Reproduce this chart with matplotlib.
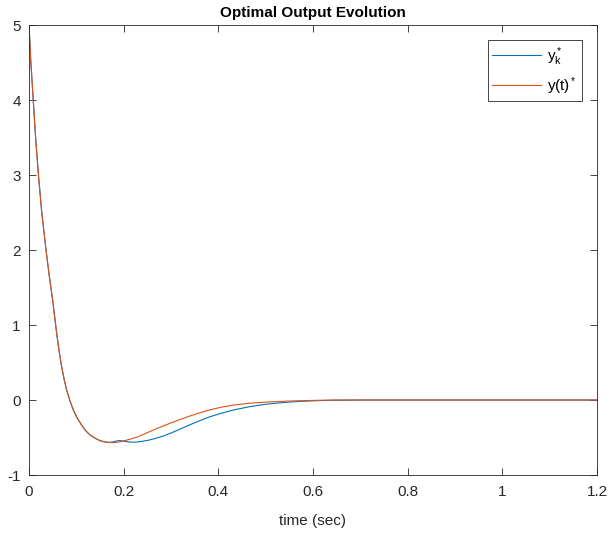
import numpy as np
import matplotlib
matplotlib.use("Agg")
import matplotlib.pyplot as plt

# values (both curves share the initial drop)
t_common = [0.0, 0.004, 0.009, 0.014, 0.02, 0.027, 0.036, 0.043, 0.05, 0.0585,
            0.064, 0.069, 0.0745, 0.0796, 0.0865, 0.0937, 0.102, 0.111, 0.12, 0.129,
            0.14, 0.15, 0.16, 0.168]
y_common = [5.0, 4.5, 4.0, 3.5, 3.0, 2.5, 2.0, 1.65, 1.333, 0.889,
            0.64, 0.444, 0.27, 0.133, -0.01, -0.133, -0.24, -0.333, -0.41, -0.467,
            -0.51, -0.542, -0.558, -0.565]

t_k_tail = [0.176, 0.184, 0.19, 0.197, 0.205, 0.213, 0.225, 0.24, 0.255, 0.27,
            0.285, 0.3, 0.32, 0.34, 0.361, 0.38, 0.405, 0.432, 0.465, 0.502,
            0.54, 0.573, 0.61, 0.643, 0.7, 1.2]
y_k_tail = [-0.56, -0.548, -0.54, -0.545, -0.553, -0.56, -0.562, -0.55, -0.532, -0.507,
            -0.477, -0.44, -0.385, -0.33, -0.275, -0.228, -0.178, -0.133, -0.09, -0.055,
            -0.032, -0.018, -0.008, -0.003, 0.0, 0.0]

t_c_tail = [0.176, 0.185, 0.192, 0.2, 0.215, 0.23, 0.25, 0.27, 0.285, 0.3,
            0.32, 0.34, 0.361, 0.38, 0.405, 0.432, 0.465, 0.502, 0.54, 0.573,
            0.61, 0.643, 1.2]
y_c_tail = [-0.568, -0.565, -0.557, -0.545, -0.52, -0.49, -0.435, -0.38, -0.342, -0.305,
            -0.258, -0.213, -0.17, -0.135, -0.097, -0.067, -0.043, -0.027, -0.016, -0.009,
            -0.004, 0.0, 0.0]

x_ticks = [0, 0.2, 0.4, 0.6, 0.8, 1, 1.2]
x_ticklabels = ["0", "0.2", "0.4", "0.6", "0.8", "1", "1.2"]
y_ticks = [-1, 0, 1, 2, 3, 4, 5]
y_ticklabels = ["-1", "0", "1", "2", "3", "4", "5"]

plt.rcParams['font.family'] = ['Liberation Sans', 'DejaVu Sans']
plt.rcParams['mathtext.fontset'] = 'custom'
plt.rcParams['mathtext.rm'] = 'Liberation Sans'
plt.rcParams['mathtext.it'] = 'Liberation Sans'


def main():
    fig = plt.figure(figsize=(6.1, 5.35), dpi=100)
    ax = fig.add_axes([0.0475, 0.1121, 0.9312, 0.8411])

    tk = t_common + t_k_tail
    yk = y_common + y_k_tail
    tc = t_common + t_c_tail
    yc = y_common + y_c_tail

    ax.plot(tk, yk, color='#0072BD', lw=0.8, label=r'$\mathregular{y_k^*}$')
    ax.plot(tc, yc, color='#D95319', lw=0.8, label=r'$\mathregular{y(t)^*}$')

    ax.set_xlim(0, 1.2)
    ax.set_ylim(-1, 5)
    ax.set_xticks(x_ticks)
    ax.set_xticklabels(x_ticklabels)
    ax.set_yticks(y_ticks)
    ax.set_yticklabels(y_ticklabels)
    ax.tick_params(direction='in', top=True, right=True, labelsize=11,
                   length=5, width=0.6, colors='#262626')
    ax.tick_params(axis='x', pad=7)
    ax.tick_params(axis='y', pad=6)
    for s in ax.spines.values():
        s.set_linewidth(0.6)
        s.set_color('#262626')

    ax.set_xlabel('time (sec)', fontsize=11, color='#262626', labelpad=11)
    ax.set_title('Optimal Output Evolution', fontsize=11, fontweight='bold', pad=6)

    leg = ax.legend(loc='upper right', fontsize=11, handlelength=3.2,
                    handletextpad=0.4, fancybox=False, framealpha=1,
                    edgecolor='#262626', borderaxespad=1.0, labelspacing=0.5,
                    borderpad=0.3)
    leg.get_frame().set_linewidth(0.6)

    fig.savefig('out.png', dpi=100)


if __name__ == "__main__":
    main()
